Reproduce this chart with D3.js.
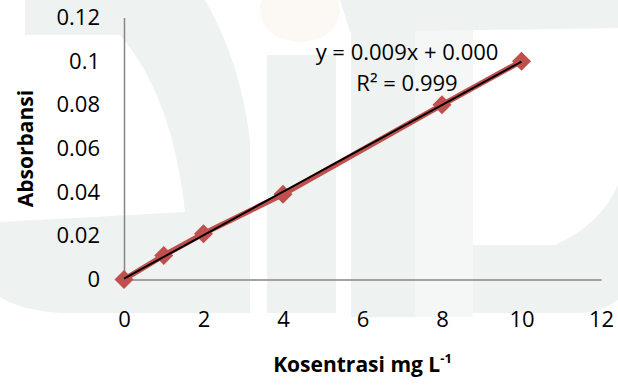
<!DOCTYPE html>
<html>
<head>
<meta charset="utf-8">
<script src="https://cdn.jsdelivr.net/npm/d3@7/dist/d3.min.js"></script>
<style>
  html, body { margin: 0; padding: 0; background: #ffffff; }
  svg { display: block; }
  text { font-family: "Open Sans", "Noto Sans", sans-serif; fill: #000; }
</style>
</head>
<body>
<svg id="chart" width="618" height="385"></svg>
<script>
// Calibration data: concentration (mg/L) vs absorbance
const konsentrasi = [0, 1, 2, 4, 8, 10];
const absorbansi  = [0, 0.011, 0.021, 0.039, 0.080, 0.100];

// Axis ticks and their labels
const xTicks = [0, 2, 4, 6, 8, 10, 12];
const xTickLabels = ["0", "2", "4", "6", "8", "10", "12"];
const yTicks = [0, 0.02, 0.04, 0.06, 0.08, 0.1, 0.12];
const yTickLabels = ["0", "0.02", "0.04", "0.06", "0.08", "0.1", "0.12"];

// Trendline annotation text
const equationLines = ["y = 0.009x + 0.000", "R² = 0.999"];

const svg = d3.select("#chart");

// Faint background emblem
const bg = svg.append("g").attr("fill", "#eef2f0");
bg.append("ellipse").attr("cx", 300).attr("cy", 10).attr("rx", 40).attr("ry", 32).attr("fill", "#fcf9f4");
bg.append("path").attr("d",
  "M25,0 L205,0 Q240,60 250,140 L250,313 L60,313 Q20,310 0,297 L0,222 L185,212 Q172,95 120,35 L25,35 Z");
bg.append("rect").attr("x", 267).attr("y", 55).attr("width", 69).attr("height", 258);
bg.append("rect").attr("x", 351).attr("y", 30).attr("width", 64).attr("height", 287);
bg.append("rect").attr("x", 415).attr("y", 30).attr("width", 58).attr("height", 287).attr("fill", "#f4f7f6");
bg.append("path").attr("d", "M340,0 L618,0 L618,28 L350,32 Z");
bg.append("path").attr("d",
  "M473,245 L555,245 Q600,225 618,185 L618,300 Q600,313 580,313 L473,313 Z");

// Scales
const x = d3.scaleLinear().domain([0, 12]).range([124, 601]);
const y = d3.scaleLinear().domain([0, 0.12]).range([279.5, 17.5]);

// Axes
const xAxis = d3.axisBottom(x)
  .tickValues(xTicks)
  .tickFormat((d, i) => xTickLabels[i])
  .tickSize(0).tickSizeOuter(0).tickPadding(32);
const yAxis = d3.axisLeft(y)
  .tickValues(yTicks)
  .tickFormat((d, i) => yTickLabels[i])
  .tickSize(0).tickSizeOuter(0).tickPadding(24);

const gx = svg.append("g").attr("transform", `translate(0,${y(0)})`).call(xAxis);
const gy = svg.append("g").attr("transform", `translate(${x(0)},0)`).call(yAxis);
[gx, gy].forEach(g => {
  g.select(".domain").attr("stroke", "#868686").attr("stroke-width", 1.5);
  g.selectAll("text").attr("font-family", "Open Sans").attr("font-size", 22).attr("fill", "#000");
});

// Data series line
const pts = konsentrasi.map((k, i) => [k, absorbansi[i]]);
svg.append("path")
  .datum(pts)
  .attr("fill", "none")
  .attr("stroke", "#c0504d")
  .attr("stroke-width", 5.5)
  .attr("stroke-linejoin", "round")
  .attr("d", d3.line().x(d => x(d[0])).y(d => y(d[1])));

// Diamond markers
svg.append("g").selectAll("path")
  .data(pts)
  .join("path")
  .attr("transform", d => `translate(${x(d[0])},${y(d[1])})`)
  .attr("d", "M0,-9.5 L9.5,0 L0,9.5 L-9.5,0 Z")
  .attr("fill", "#c0504d");

// Least-squares linear trendline
const mx = d3.mean(konsentrasi), my = d3.mean(absorbansi);
const slope = d3.sum(pts, d => (d[0] - mx) * (d[1] - my)) / d3.sum(pts, d => (d[0] - mx) ** 2);
const intercept = my - slope * mx;
const xMin = d3.min(konsentrasi), xMax = d3.max(konsentrasi);
svg.append("line")
  .attr("x1", x(xMin)).attr("y1", y(intercept + slope * xMin))
  .attr("x2", x(xMax)).attr("y2", y(intercept + slope * xMax))
  .attr("stroke", "#000")
  .attr("stroke-width", 2);

// Equation annotation
svg.append("text")
  .attr("x", 407).attr("y", 60)
  .attr("text-anchor", "middle")
  .attr("font-size", 22)
  .text(equationLines[0]);
svg.append("text")
  .attr("x", 407).attr("y", 91)
  .attr("text-anchor", "middle")
  .attr("font-size", 22)
  .text(equationLines[1]);

// Axis titles
svg.append("text")
  .attr("transform", `translate(33,${(y(0) + y(0.12)) / 2}) rotate(-90)`)
  .attr("text-anchor", "middle")
  .attr("font-weight", "bold")
  .attr("font-size", 21)
  .text("Absorbansi");

const xt = svg.append("text")
  .attr("x", (x(0) + x(12)) / 2).attr("y", 372)
  .attr("text-anchor", "middle")
  .attr("font-weight", "bold")
  .attr("font-size", 21);
xt.append("tspan").text("Kosentrasi mg L");
xt.append("tspan").attr("font-size", 13).attr("dy", -9).text("-1");
</script>
</body>
</html>
